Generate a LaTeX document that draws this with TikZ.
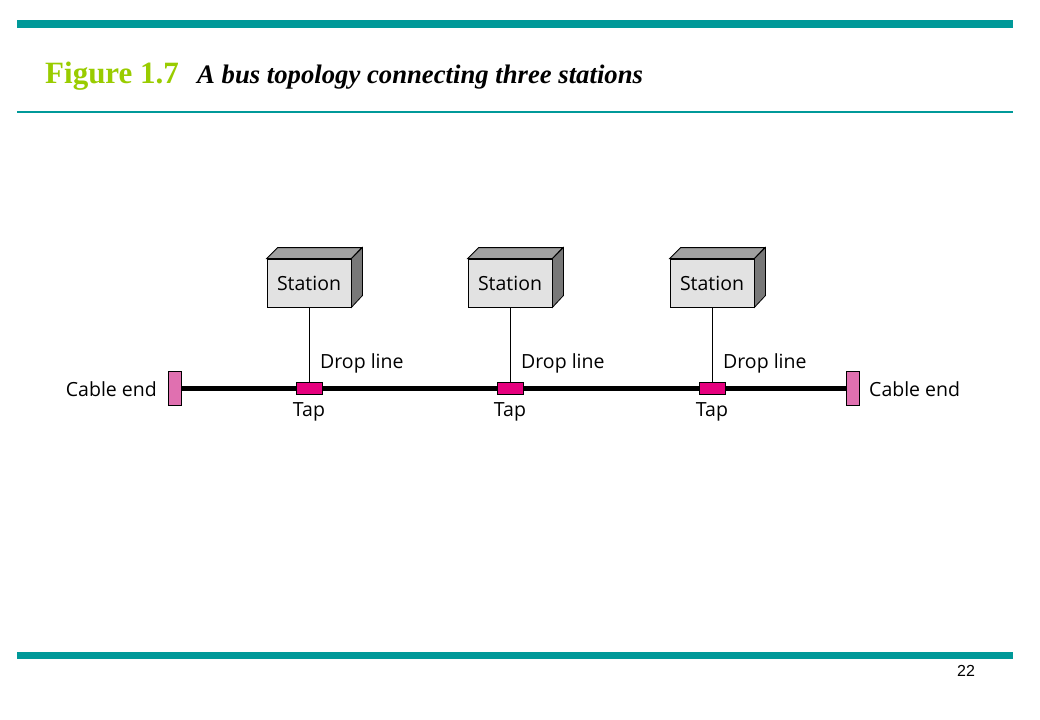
\documentclass[tikz,border=0pt]{standalone}
\usepackage{fontspec}
\setmainfont{Liberation Serif}
\setsansfont{Open Sans}
\usetikzlibrary{positioning}
\definecolor{barteal}{RGB}{0,153,153}
\definecolor{titlegreen}{RGB}{153,204,0}
\definecolor{tapred}{RGB}{230,0,126}
\definecolor{endpink}{RGB}{224,112,176}
\definecolor{boxfront}{RGB}{226,226,226}
\definecolor{boxtop}{RGB}{160,160,160}
\definecolor{boxside}{RGB}{120,120,120}

\begin{document}
\begin{tikzpicture}[x=1bp,y=-1bp,
  station/.style={draw,thick,fill=boxfront,inner sep=0pt,minimum width=84bp,minimum height=48bp,
    font=\sffamily\fontsize{19.5bp}{21bp}\selectfont},
  tap/.style={draw,fill=tapred,inner sep=0pt,minimum width=26bp,minimum height=12bp},
  cableend/.style={draw,fill=endpink,inner sep=0pt,minimum width=13bp,minimum height=34bp},
  lbl/.style={inner sep=0pt,font=\sffamily\fontsize{19.5bp}{21bp}\selectfont},
  bus/.style={line width=5bp}]
  \useasboundingbox (0,0) rectangle (1040,720);

  % frame of the slide
  \fill[barteal] (17,20) rectangle (1013,28);
  \fill[barteal] (17,111) rectangle (1013,113);
  \fill[barteal] (17,652) rectangle (1013,659);
  \node (fig)[anchor=base west,inner sep=0pt,text=titlegreen,font=\bfseries\fontsize{31bp}{33bp}\selectfont] at (45,84) {Figure 1.7};
  \node (cap)[anchor=base west,inner sep=0pt,font=\bfseries\itshape\fontsize{26.7bp}{28bp}\selectfont] at (197,84) {A bus topology connecting three stations};
  \node (page)[inner sep=0pt,font=\fontspec{Liberation Sans}\fontsize{16bp}{18bp}\selectfont] at (966,671) {22};

  % stations
  \node (S1)[station] at (309,283) {Station};
  \node (S2)[station] at (510,283) {Station};
  \node (S3)[station] at (712,283) {Station};
  \filldraw[thick,fill=boxtop] (S1.north west) -- ++(11,-11) -- ++(84,0) -- (S1.north east) -- cycle;
  \filldraw[thick,fill=boxside] (S1.north east) -- ++(11,-11) -- ++(0,48) -- (S1.south east) -- cycle;
  \filldraw[thick,fill=boxtop] (S2.north west) -- ++(11,-11) -- ++(84,0) -- (S2.north east) -- cycle;
  \filldraw[thick,fill=boxside] (S2.north east) -- ++(11,-11) -- ++(0,48) -- (S2.south east) -- cycle;
  \filldraw[thick,fill=boxtop] (S3.north west) -- ++(11,-11) -- ++(84,0) -- (S3.north east) -- cycle;
  \filldraw[thick,fill=boxside] (S3.north east) -- ++(11,-11) -- ++(0,48) -- (S3.south east) -- cycle;

  % cable and taps
  \node (L)[cableend] at (174.5,388) {};
  \node (R)[cableend] at (853,388) {};
  \node (T1)[tap] at (309,388) {};
  \node (T2)[tap] at (510,388) {};
  \node (T3)[tap] at (712,388) {};
  \draw[bus] (L.east) -- (T1.west);
  \draw[bus] (T1.east) -- (T2.west);
  \draw[bus] (T2.east) -- (T3.west);
  \draw[bus] (T3.east) -- (R.west);
  \draw[semithick] (S1) -- (T1);
  \draw[semithick] (S2) -- (T2);
  \draw[semithick] (S3) -- (T3);

  % labels
  \node (D1)[lbl,anchor=west] at (320,363) {Drop line};
  \node (D2)[lbl,anchor=west] at (521,363) {Drop line};
  \node (D3)[lbl,anchor=west] at (723,363) {Drop line};
  \node (P1)[lbl] at (309,412) {Tap};
  \node (P2)[lbl] at (510,412) {Tap};
  \node (P3)[lbl] at (712,412) {Tap};
  \node (EL)[lbl,anchor=east] at (157,389) {Cable end};
  \node (ER)[lbl,anchor=west] at (869,389) {Cable end};
\end{tikzpicture}
\end{document}
